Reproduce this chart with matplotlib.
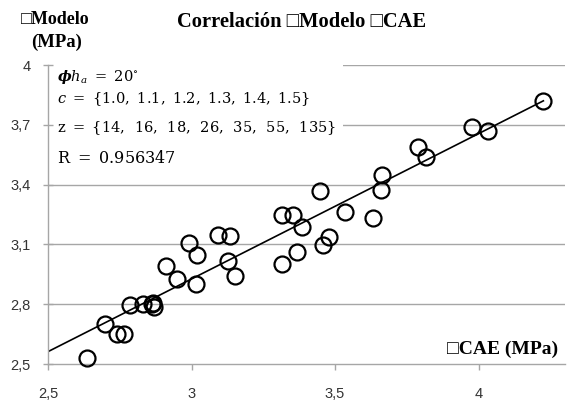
import matplotlib
matplotlib.use("Agg")
import matplotlib.pyplot as plt
from matplotlib.patches import Rectangle
import numpy as np

# Data
cae = [2.635, 2.70, 2.74, 2.765, 2.786, 2.83, 2.861, 2.87, 2.865,
       2.91, 2.95, 2.99, 3.018, 3.016, 3.093, 3.134, 3.128, 3.152,
       3.314, 3.314, 3.355, 3.384, 3.369, 3.448, 3.459, 3.48, 3.535,
       3.634, 3.663, 3.66, 3.788, 3.817, 3.978, 4.034, 4.226]
modelo = [2.53, 2.70, 2.65, 2.65, 2.795, 2.80, 2.80, 2.787, 2.805,
          2.99, 2.925, 3.107, 3.047, 2.90, 3.149, 3.14, 3.017, 2.94,
          3.25, 3.0, 3.248, 3.186, 3.06, 3.367, 3.095, 3.137, 3.265,
          3.23, 3.448, 3.373, 3.587, 3.54, 3.687, 3.67, 3.82]
trend_x = [2.5, 4.226]
trend_intercept = 2.562   # value at x = 2.5
trend_slope = 0.729

x_ticks = [2.5, 3.0, 3.5, 4.0]
x_ticklabels = ["2,5", "3", "3,5", "4"]
y_ticks = [2.5, 2.8, 3.1, 3.4, 3.7, 4.0]
y_ticklabels = ["2,5", "2,8", "3,1", "3,4", "3,7", "4"]

title = "Correlación \u25a1Modelo \u25a1CAE"
ylabel_1 = "\u25a1Modelo"
ylabel_2 = "(MPa)"
xlabel = "\u25a1CAE (MPa)"
annot = [r"$\boldsymbol{\phi} h_a\ =\ 20^{\circ}$",
         r"$c\ =\ \{1.0,\ 1.1,\ 1.2,\ 1.3,\ 1.4,\ 1.5\}$",
         r"$\mathrm{z}\ =\ \{14,\ \,16,\ \,18,\ \,26,\ \,35,\ \,55,\ \,135\}$",
         r"$\mathrm{R}\ =\ 0.956347$"]
annot_sizes = [10.5, 10.5, 10.5, 11.5]

serif = ['Liberation Serif', 'DejaVu Sans']

fig = plt.figure(figsize=(5.7, 4.0), dpi=100)
ax = fig.add_axes([48/570, 1 - 364/400, (565 - 48)/570, (364 - 65)/400])

ax.set_xlim(2.5, 2.5 + (565 - 48) / 287)
ax.set_ylim(2.5, 4.0)

for y in y_ticks[1:]:
    ax.axhline(y, color='#a6a6a6', lw=1.0, zorder=0)

tx = np.array(trend_x)
ax.plot(tx, trend_intercept + trend_slope * (tx - 2.5), color='black', lw=1.2, zorder=2)

ax.plot(cae, modelo, linestyle='none', marker='o', markersize=11.5,
        markerfacecolor='none', markeredgecolor='black', markeredgewidth=1.6,
        clip_on=False, zorder=3)

for s in ['top', 'right']:
    ax.spines[s].set_visible(False)
for s in ['left', 'bottom']:
    ax.spines[s].set_color('#a6a6a6')
    ax.spines[s].set_linewidth(1.0)

ax.set_xticks(x_ticks)
ax.set_xticklabels(x_ticklabels)
ax.set_yticks(y_ticks)
ax.set_yticklabels(y_ticklabels)
ax.tick_params(axis='x', direction='out', length=4.3, width=1, color='#a6a6a6',
               labelsize=10.5, pad=12)
ax.tick_params(axis='y', direction='inout', length=7.2, width=1, color='#a6a6a6',
               labelsize=10.5, pad=9)
for lab in ax.get_xticklabels() + ax.get_yticklabels():
    lab.set_fontfamily(['Liberation Sans', 'DejaVu Sans'])
    lab.set_color('#333333')

# white box behind the annotation (covers grid lines)
ax.add_patch(Rectangle((2.503, 3.53), (343 - 49) / 287, 0.49, facecolor='white',
                       edgecolor='none', zorder=1, clip_on=False))

baselines_px = [81, 103, 132, 163]
for t, ypx, fs in zip(annot, baselines_px, annot_sizes):
    fig.text(57/570, 1 - ypx/400, t, fontsize=fs, va='baseline', ha='left',
             math_fontfamily='dejavuserif', zorder=5)

fig.text(302/570, 1 - 22/400, title, fontsize=14.8, fontweight='bold',
         ha='center', va='center', family=serif)
fig.text(21/570, 1 - 20/400, ylabel_1, fontsize=13, fontweight='bold',
         ha='left', va='center', family=serif)
fig.text(57/570, 1 - 42/400, ylabel_2, fontsize=13.5, fontweight='bold',
         ha='center', va='center', family=serif)
fig.text(558/570, 1 - 349/400, xlabel, fontsize=14, fontweight='bold',
         ha='right', va='center', family=serif)

fig.savefig("out.png", dpi=100, facecolor='white')
